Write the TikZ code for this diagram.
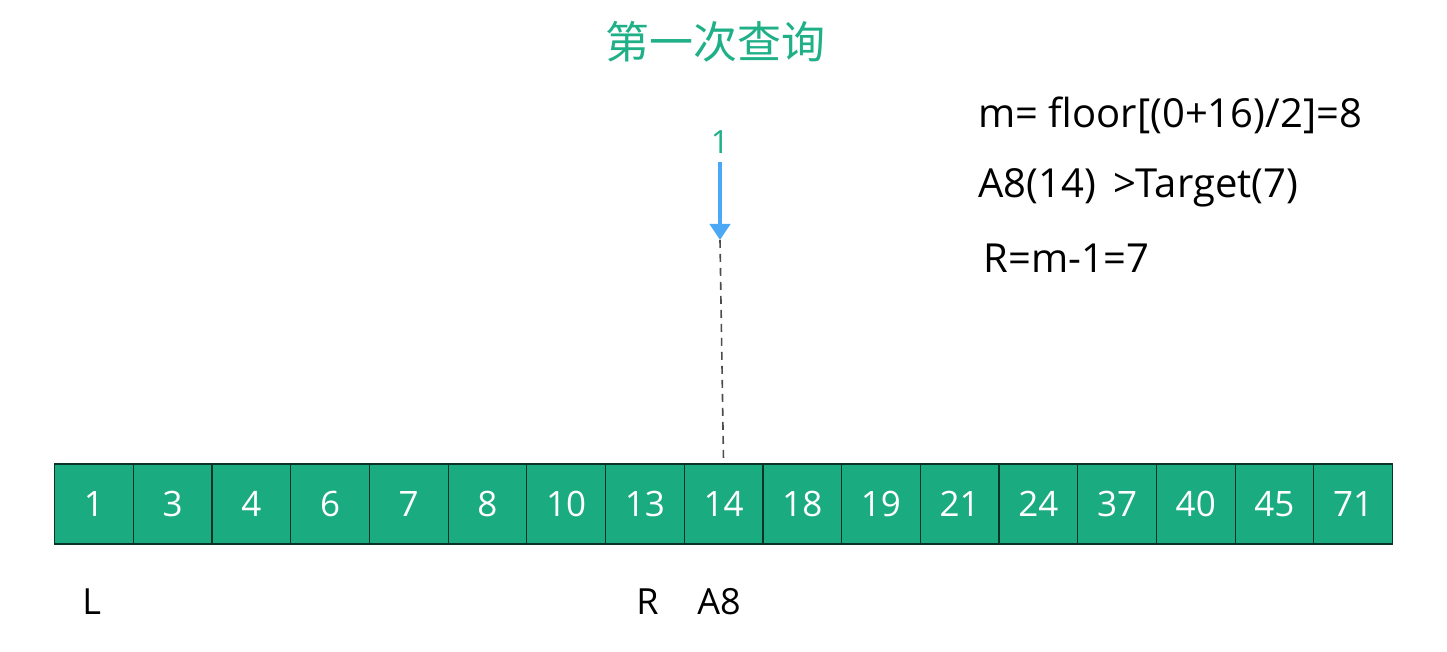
\documentclass[tikz,border=0pt]{standalone}
\usepackage{fontspec}
\setmainfont{Open Sans}
\newfontfamily\cjk{Noto Sans CJK SC}
\usetikzlibrary{arrows.meta}
\definecolor{cellg}{HTML}{1BAB80}
\definecolor{titleg}{HTML}{1FB088}
\definecolor{arrb}{HTML}{4AA8F5}
\tikzset{cell/.style={draw=black!70!cellg,fill=cellg,minimum width=39.35pt,minimum height=40pt,inner sep=0pt,text=white,font=\fontsize{17.5}{20}\selectfont,anchor=west,line width=0.6pt},
lbl/.style={anchor=west,font=\fontsize{20}{24}\selectfont,inner sep=0pt}}
\begin{document}
\begin{tikzpicture}[x=0.5pt,y=-0.5pt]
\useasboundingbox (0,0) rectangle (1447,652);
\node[font=\cjk\fontsize{22}{26}\selectfont,text=titleg] (title) at (715,42) {第一次查询};
\foreach \v [count=\i from 0] in {1,3,4,6,7,8,10,13,14,18,19,21,24,37,40,45,71}
  \node[cell] (c\i) at ({54+\i*78.7},504) {\v};
\node[font=\fontsize{16}{18}\selectfont,text=titleg] (one) at (720,142) {1};
\coordinate (atop) at (720,162);
\coordinate (abot) at (720,240);
\draw[arrb,line width=2pt,-{Triangle[width=10pt,length=8pt]}] (atop) -- (abot);
\draw[black!70,line width=0.8pt,dash pattern=on 4pt off 3pt] (abot) -- (c8.north);
\node[lbl] (f1) at (978,115) {m= floor[(0+16)/2]=8};
\node[lbl] (f2) at (978,188) {A8(14) \,>Target(7)};
\node[lbl] (f3) at (983,258) {R=m-1=7};
\node[lbl,font=\fontsize{18}{20}\selectfont] (L) at (82,602) {L};
\node[lbl,font=\fontsize{18}{20}\selectfont] (R) at (636,602) {R};
\node[lbl,font=\fontsize{18}{20}\selectfont] (A8) at (697,602) {A8};
\end{tikzpicture}
\end{document}
